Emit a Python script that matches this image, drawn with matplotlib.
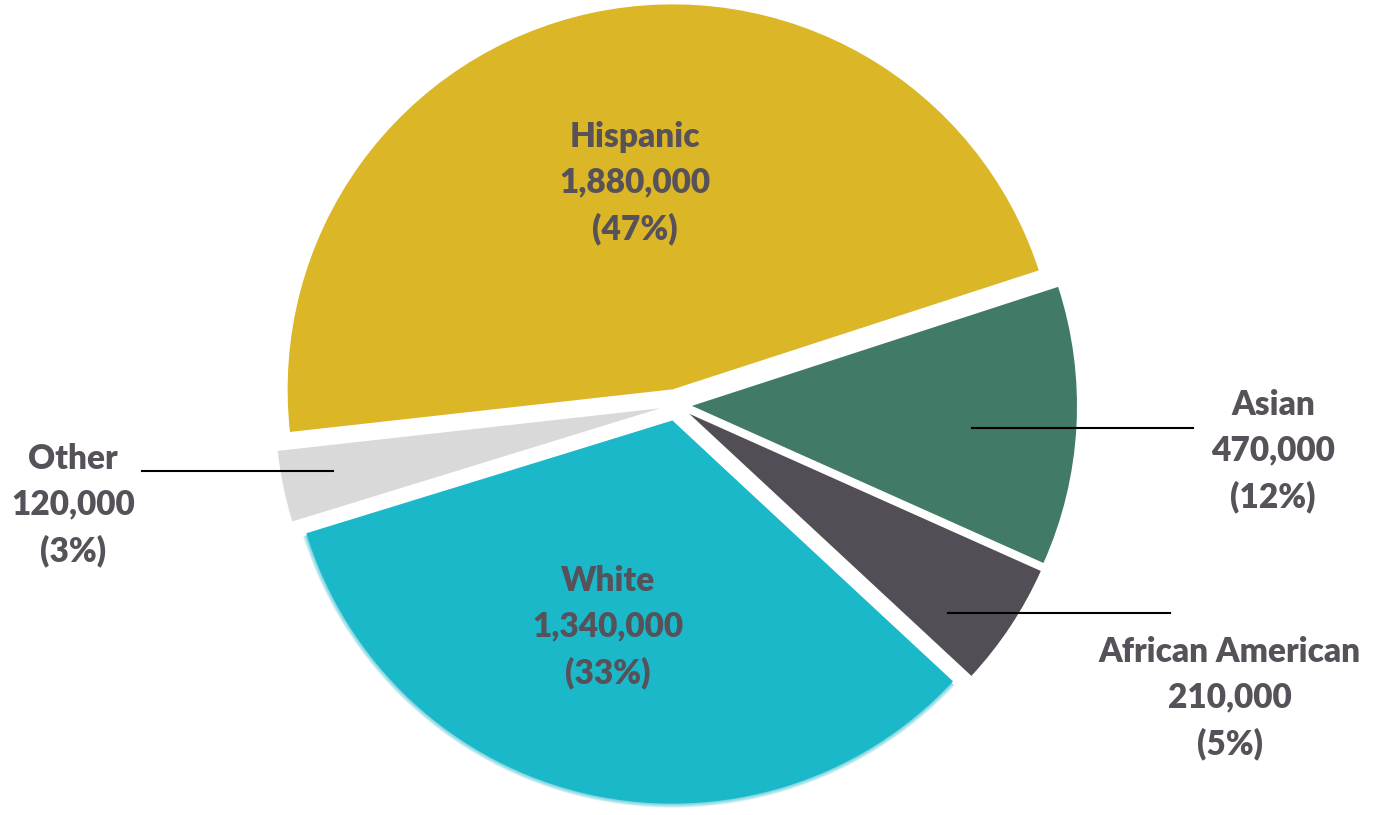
import numpy as np
import matplotlib.pyplot as plt
from matplotlib.patches import Wedge

groups = ["Hispanic", "Other", "White", "African American", "Asian"]
population = [1880000, 120000, 1340000, 210000, 470000]
colors = ["#DBB626", "#D9D9D9", "#1AB8C8", "#534E56", "#417B67"]

plt.rcParams["font.family"] = ["Lato", "DejaVu Sans"]
text_color = "#57515A"

fig = plt.figure(figsize=(13.74, 8.15), dpi=100)
ax = fig.add_axes([0, 0, 1, 1])

# axes units are pixels, pie centre at the origin
R = 385
explode = [16] * len(population)
wedges, _ = ax.pie(population, colors=colors, radius=R, explode=explode,
                   startangle=18, counterclock=True,
                   wedgeprops=dict(linewidth=0))

# soft edge on the white slice
w = wedges[2]
w.set_radius(R - 2)
for k in range(0, 5):
    ax.add_patch(Wedge(w.center, R - 2 + k, w.theta1 + 0.3, w.theta2 - 0.3,
                       facecolor=colors[2], alpha=0.18, linewidth=0, zorder=0.5))

ax.set_xlim(-676, 698)
ax.set_ylim(-410, 405)
ax.set_aspect("equal")
ax.axis("off")

total = sum(population)


def label_text(i):
    pct = round(100 * population[i] / total)
    return "{}\n{:,}\n({}%)".format(groups[i], population[i], pct)


# label anchors (pixels from pie centre) and leader lines
label_pos = {0: (-41, 222), 1: (-603, -100), 2: (-68, -222),
             3: (554, -293), 4: (597, -46)}
leaders = {1: ((-534, -343), (-66, -66)),
           3: ((272, 494), (-208, -208)),
           4: ((296, 517), (-23, -23))}

for i, (x, y) in label_pos.items():
    ax.text(x, y, label_text(i), ha="center", va="center", fontsize=24,
            fontweight="heavy", color=text_color, linespacing=1.52)

for i, (xs, ys) in leaders.items():
    ax.plot(xs, ys, color="black", linewidth=1.5, zorder=3)

fig.savefig("out.png", dpi=100)
